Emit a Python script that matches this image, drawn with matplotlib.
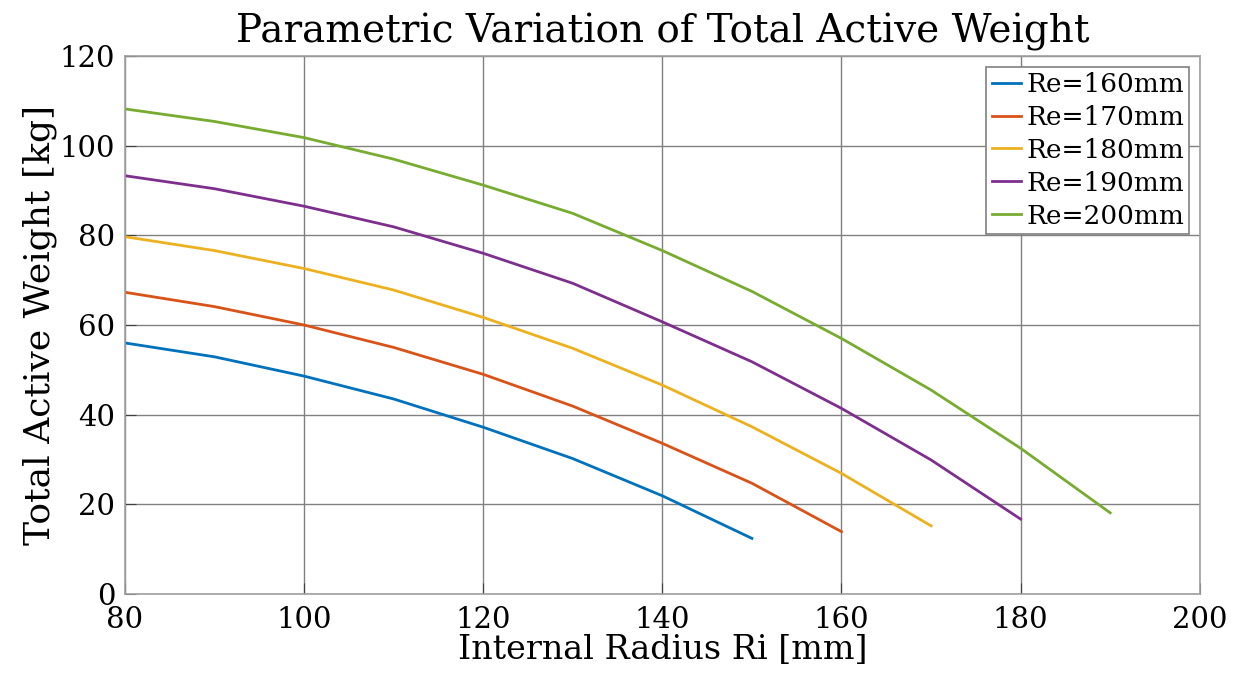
import matplotlib
matplotlib.use("Agg")
import matplotlib.pyplot as plt

ri = [80, 90, 100, 110, 120, 130, 140, 150, 160, 170, 180, 190]

w_160 = [56.0, 52.9, 48.6, 43.5, 37.2, 30.2, 21.9, 12.4]
w_170 = [67.3, 64.1, 60.0, 55.0, 49.0, 41.9, 33.6, 24.7, 13.9]
w_180 = [79.7, 76.6, 72.6, 67.8, 61.7, 54.8, 46.6, 37.3, 26.9, 15.2]
w_190 = [93.3, 90.4, 86.5, 81.9, 76.0, 69.3, 60.7, 51.8, 41.4, 29.9, 16.7]
w_200 = [108.2, 105.4, 101.8, 97.0, 91.2, 84.9, 76.6, 67.5, 57.0, 45.5, 32.5, 18.1]

series = [w_160, w_170, w_180, w_190, w_200]
labels = ["Re=160mm", "Re=170mm", "Re=180mm", "Re=190mm", "Re=200mm"]
colors = ["#0072BD", "#D95319", "#EDB120", "#7E2F8E", "#77AC30"]

plt.rcParams['font.family'] = ['DejaVu Serif']

fig = plt.figure(figsize=(12.42, 6.8), dpi=100)
ax = fig.add_axes([0.1006, 0.1265, 0.8654, 0.7911])

for w, lab, c in zip(series, labels, colors):
    ax.plot(ri[:len(w)], w, color=c, linewidth=2, label=lab)

ax.set_xlim(80, 200)
ax.set_ylim(0, 120)
ax.set_xticks(range(80, 201, 20))
ax.set_yticks(range(0, 121, 20))
ax.grid(True, color='#808080', linewidth=1)
ax.tick_params(direction='in', labelsize=21, length=8, color='#404040')
ax.tick_params(axis='x', pad=9)
ax.tick_params(axis='y', pad=7)
for s in ax.spines.values():
    s.set_color('#a0a0a0')
    s.set_linewidth(1.2)

ax.set_xlabel("Internal Radius Ri [mm]", fontsize=24, labelpad=0)
ax.set_ylabel("Total Active Weight [kg]", fontsize=26, labelpad=2)
ax.set_title("Parametric Variation of Total Active Weight", fontsize=28, pad=10)

leg = ax.legend(loc='upper right', fontsize=19, handlelength=1.1, handletextpad=0.2,
                borderpad=0.2, labelspacing=0.3, fancybox=False, framealpha=1,
                borderaxespad=0.4)
leg.get_frame().set_edgecolor('#808080')
leg.get_frame().set_linewidth(1.2)

fig.savefig("out.png", dpi=100)
